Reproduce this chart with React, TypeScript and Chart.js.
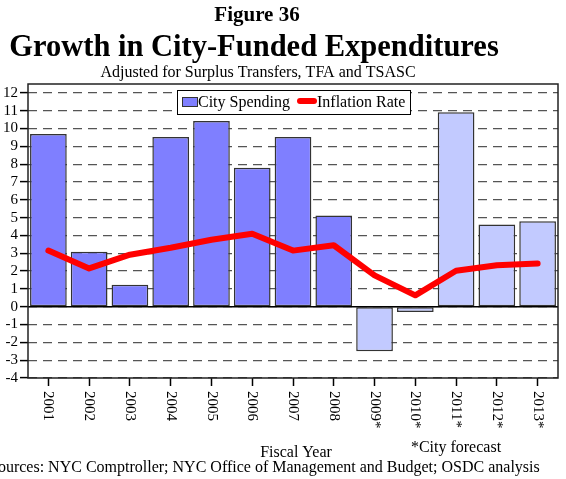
import React, { useEffect, useRef } from "react";
import { Chart, registerables } from "chart.js";

Chart.register(...registerables);

const categories = ["2001", "2002", "2003", "2004", "2005", "2006", "2007", "2008", "2009*", "2010*", "2011*", "2012*", "2013*"];
const citySpending = [9.7, 3.08, 1.23, 9.52, 10.42, 7.8, 9.52, 5.12, -2.5, -0.3, 10.92, 4.62, 4.8];
const inflationRate = [3.15, 2.15, 2.92, 3.31, 3.76, 4.1, 3.15, 3.45, 1.76, 0.64, 2.02, 2.33, 2.42];
const forecastFlags = [false, false, false, false, false, false, false, false, true, true, true, true, true];
const yTicks = [-4, -3, -2, -1, 0, 1, 2, 3, 4, 5, 6, 7, 8, 9, 10, 11, 12];

const SERIF = "'Liberation Serif', 'DejaVu Serif', serif";
const DARK_BLUE = "#7f7fff";
const LIGHT_BLUE = "#c2caff";

const overlay = {
  id: "overlay",
  afterDatasetsDraw(chart: any) {
    const { ctx, chartArea } = chart;
    ctx.save();
    const y0 = chart.scales.y.getPixelForValue(0);
    ctx.strokeStyle = "#000";
    ctx.lineWidth = 1.5;
    ctx.beginPath();
    ctx.moveTo(chartArea.left, y0);
    ctx.lineTo(chartArea.right, y0);
    ctx.stroke();
    ctx.strokeStyle = "#222";
    ctx.lineWidth = 1.5;
    ctx.strokeRect(chartArea.left, chartArea.top, chartArea.right - chartArea.left, chartArea.bottom - chartArea.top);

    // legend
    const lx = 177, ly = 90, lw = 233, lh = 24;
    ctx.fillStyle = "#fff";
    ctx.fillRect(lx, ly, lw, lh);
    ctx.strokeStyle = "#000";
    ctx.lineWidth = 1;
    ctx.strokeRect(lx + 0.5, ly + 0.5, lw, lh);
    ctx.fillStyle = DARK_BLUE;
    ctx.fillRect(182, 97, 15, 9);
    ctx.strokeStyle = "#333";
    ctx.strokeRect(182.5, 97.5, 15, 9);
    ctx.font = `16px ${SERIF}`;
    ctx.fillStyle = "#000";
    ctx.textBaseline = "alphabetic";
    ctx.textAlign = "left";
    ctx.fillText("City Spending", 198, 107);
    ctx.strokeStyle = "#ff0000";
    ctx.lineWidth = 6;
    ctx.lineCap = "round";
    ctx.beginPath();
    ctx.moveTo(300, 101);
    ctx.lineTo(314, 101);
    ctx.stroke();
    ctx.fillText("Inflation Rate", 317, 107);
    ctx.restore();
  },
  afterDraw(chart: any) {
    const { ctx, chartArea } = chart;
    const xs = chart.scales.x;
    ctx.save();
    ctx.fillStyle = "#000";
    ctx.textAlign = "center";
    ctx.textBaseline = "alphabetic";
    ctx.font = `bold 21px ${SERIF}`;
    ctx.fillText("Figure 36", 257, 21);
    ctx.font = `bold 30.5px ${SERIF}`;
    ctx.fillText("Growth in City-Funded Expenditures", 254, 56);
    ctx.font = `16px ${SERIF}`;
    ctx.fillText("Adjusted for Surplus Transfers, TFA and TSASC", 258, 77);
    ctx.fillText("Fiscal Year", 296, 457);
    ctx.fillText("*City forecast", 456, 452);
    ctx.textAlign = "left";
    ctx.fillText("Sources: NYC Comptroller; NYC Office of Management and Budget; OSDC analysis", -11, 472);

    ctx.font = `15px ${SERIF}`;
    ctx.textBaseline = "middle";
    categories.forEach((c, i) => {
      const x = xs.getPixelForValue(i);
      ctx.save();
      ctx.translate(x, chartArea.bottom + 13);
      ctx.rotate(Math.PI / 2);
      ctx.fillText(c, 0, 0);
      ctx.restore();
    });
    ctx.restore();
  },
};

export default function App() {
  const ref = useRef<HTMLCanvasElement>(null);
  useEffect(() => {
    if (!ref.current) return;
    const chart = new Chart(ref.current, {
      type: "bar",
      data: {
        labels: categories,
        datasets: [
          {
            type: "line",
            label: "Inflation Rate",
            data: inflationRate,
            borderColor: "#ff0000",
            backgroundColor: "#ff0000",
            borderWidth: 6,
            pointRadius: 0,
            borderCapStyle: "round",
            borderJoinStyle: "round",
            tension: 0,
            order: 0,
          } as any,
          {
            type: "bar",
            label: "City Spending",
            data: citySpending,
            backgroundColor: forecastFlags.map((f) => (f ? LIGHT_BLUE : DARK_BLUE)),
            borderColor: "#333",
            borderWidth: 1.5,
            borderSkipped: false,
            barPercentage: 0.9,
            categoryPercentage: 1,
            order: 1,
          } as any,
        ],
      },
      options: {
        animation: false,
        responsive: false,
        layout: { padding: { top: 84, right: 8, left: 0, bottom: 0 } },
        plugins: { legend: { display: false }, tooltip: { enabled: false }, title: { display: false } },
        scales: {
          x: {
            type: "category",
            offset: true,
            grid: { offset: false, drawOnChartArea: false, drawTicks: true, tickLength: 8, tickColor: "#000", tickWidth: 1.5 },
            border: { display: false },
            ticks: { display: false },
            afterFit: (s: any) => { s.height = 101; },
          },
          y: {
            min: -4,
            max: 12.5,
            afterBuildTicks: (s: any) => { s.ticks = yTicks.map((v) => ({ value: v })); },
            afterFit: (s: any) => { s.width = 28; },
            grid: { color: "#555", lineWidth: 1.2, tickLength: 8, tickColor: "#000", tickWidth: 1.5, tickBorderDash: [] },
            border: { display: false, dash: [9, 6] },
            ticks: { color: "#000", font: { family: SERIF, size: 15 }, padding: 2, autoSkip: false },
          },
        },
      },
      plugins: [overlay],
    });
    return () => chart.destroy();
  }, []);
  return (
    <div style={{ position: "absolute", left: 0, top: 0, width: 566, height: 479, background: "#fff" }}>
      <canvas ref={ref} width={566} height={479} style={{ display: "block" }} />
    </div>
  );
}
